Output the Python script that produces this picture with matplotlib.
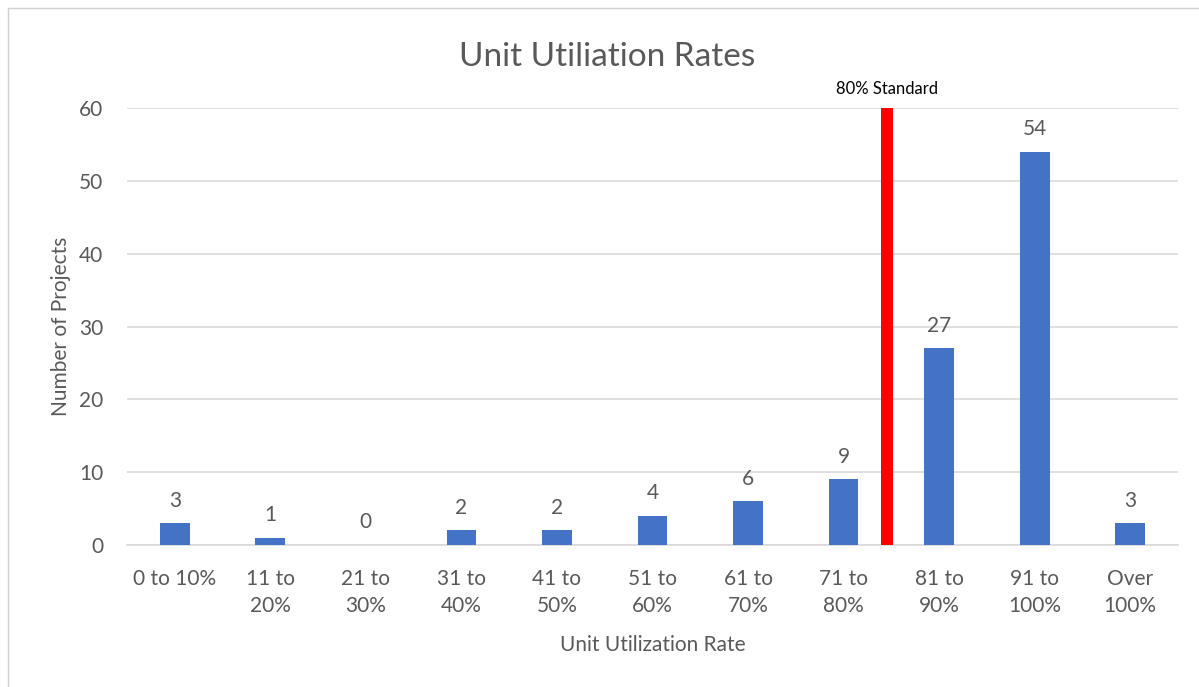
import matplotlib.pyplot as plt
from matplotlib.lines import Line2D

categories = ['0 to 10%', '11 to\n20%', '21 to\n30%', '31 to\n40%', '41 to\n50%',
              '51 to\n60%', '61 to\n70%', '71 to\n80%', '81 to\n90%', '91 to\n100%',
              'Over\n100%']
projects = [3, 1, 0, 2, 2, 4, 6, 9, 27, 54, 3]
yticks = [0, 10, 20, 30, 40, 50, 60]

standard_pos = 7.45
standard_height = 60
standard_label = '80% Standard'

plt.rcParams['font.family'] = ['Lato', 'DejaVu Sans']
gray = '#595959'

fig = plt.figure(figsize=(11.99, 6.87), dpi=100)
ax = fig.add_axes([0.1059, 0.2067, 0.8766, 0.636])

x = list(range(len(categories)))
ax.bar(x, projects, width=0.31, color='#4472c4', zorder=3)
ax.bar([standard_pos], [standard_height], width=0.125, color='#ff0000', zorder=4)

for xi, v in zip(x, projects):
    ax.annotate(str(v), (xi, v), xytext=(0, 9), textcoords='offset points',
                ha='center', va='bottom', fontsize=15, color=gray)

ax.annotate(standard_label, (standard_pos, standard_height), xytext=(0, 8),
            textcoords='offset points', ha='center', va='bottom',
            fontsize=12, color='black')

ax.set_xlim(-0.5, len(categories) - 0.5)
ax.set_ylim(0, 60)
ax.set_yticks(yticks)
ax.set_xticks(x)
ax.set_xticklabels(categories, linespacing=1.45)
ax.tick_params(axis='both', length=0, labelsize=15, labelcolor=gray)
ax.tick_params(axis='x', pad=17)
ax.tick_params(axis='y', pad=17)
ax.grid(axis='y', color='#d9d9d9', linewidth=1.2, zorder=0)
for s in ['top', 'right', 'left']:
    ax.spines[s].set_visible(False)
ax.spines['bottom'].set_color('#d9d9d9')
ax.spines['bottom'].set_linewidth(1.2)

fig.text(607 / 1199, 1 - 57 / 687, 'Unit Utiliation Rates', fontsize=24,
         color=gray, ha='center', va='center')
ax.set_xlabel('Unit Utilization Rate', fontsize=15, color=gray, labelpad=14)
ax.set_ylabel('Number of Projects', fontsize=15, color=gray, labelpad=6)

fig.add_artist(Line2D([8 / 1199, 8 / 1199], [0, 1 - 8 / 687], color='#d0d0d0', linewidth=1))
fig.add_artist(Line2D([8 / 1199, 1], [1 - 8 / 687, 1 - 8 / 687], color='#d0d0d0', linewidth=1))

fig.savefig('out.png', dpi=100)
